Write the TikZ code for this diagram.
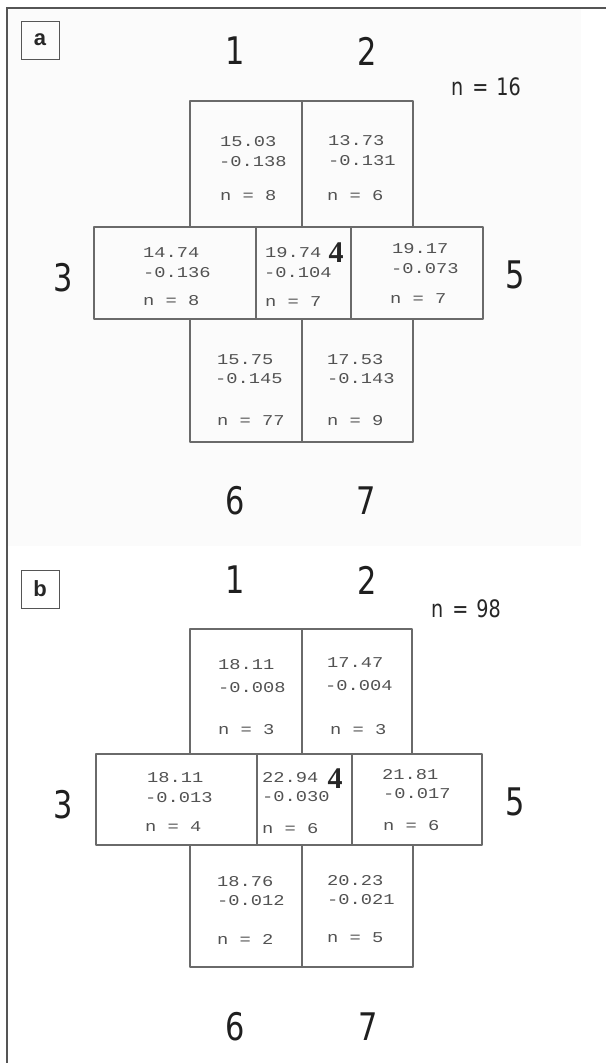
\documentclass[tikz,border=0pt]{standalone}
\usepackage{fontspec}
\newfontfamily\cellfont[FakeStretch=1.25]{Liberation Mono}
\newfontfamily\bigfont[FakeStretch=0.8]{DejaVu Sans}
\newfontfamily\fourfont{Liberation Serif}
\newfontfamily\tagfont{Liberation Sans}
\definecolor{linec}{HTML}{6A6A6A}
\definecolor{framec}{HTML}{555555}
\begin{document}
\begin{tikzpicture}[x=1pt,y=-1pt,
  cell/.style={draw=linec,line width=1.4pt,line join=round},
  val/.style={anchor=west,inner sep=0pt,font=\cellfont\fontsize{15}{15}\selectfont,text=black!68},
  big/.style={inner sep=0pt,font=\bigfont\fontsize{38}{38}\selectfont,text=black!88},
  four/.style={inner sep=0pt,font=\fourfont\bfseries\fontsize{30}{30}\selectfont,text=black!85},
  ntot/.style={anchor=base west,inner sep=0pt,font=\bigfont\fontsize{24}{24}\selectfont,text=black!85},
  tag/.style={draw=framec,line width=0.9pt,minimum size=38pt,inner sep=0pt,font=\tagfont\bfseries\fontsize{22}{22}\selectfont,text=black!85}]
\useasboundingbox (0,0) rectangle (606,1063);
\fill[white] (0,0) rectangle (606,1063);
\fill[black!1.5] (7,8) rectangle (581,546);
% frame
\draw[draw=framec,line width=1.5pt] (7,1063) -- (7,8) -- (606,8);
% ---------------- panel a ----------------
\node[tag] (taga) at (40,40) {a};
\draw[cell] (190,101) rectangle (302,227);
\draw[cell] (302,101) rectangle (413,227);
\draw[cell] (94,227) rectangle (256,319);
\draw[cell] (256,227) rectangle (351,319);
\draw[cell] (351,227) rectangle (483,319);
\draw[cell] (190,319) rectangle (302,442);
\draw[cell] (302,319) rectangle (413,442);
\node[big] (a1) at (235,51) {1};
\node[big] (a2) at (367,51) {2};
\node[big] (a3) at (63,278) {3};
\node[big] (a5) at (515,275) {5};
\node[big] (a6) at (235,501) {6};
\node[big] (a7) at (366,501) {7};
\node[four] (a4) at (336,253) {4};
\node[ntot] (an) at (451,95) {n\hspace{9pt}=\hspace{8pt}16};
\node[val] (a11) at (220,142) {15.03};
\node[val] (a12) at (219,162) {-0.138};
\node[val] (a13) at (220,196) {n = 8};
\node[val] (a21) at (328,141) {13.73};
\node[val] (a22) at (328,161) {-0.131};
\node[val] (a23) at (327,196) {n = 6};
\node[val] (a31) at (143,253) {14.74};
\node[val] (a32) at (143,273) {-0.136};
\node[val] (a33) at (143,301) {n = 8};
\node[val] (a41) at (265,253) {19.74};
\node[val] (a42) at (264,273) {-0.104};
\node[val] (a43) at (265,302) {n = 7};
\node[val] (a51) at (392,249) {19.17};
\node[val] (a52) at (391,269) {-0.073};
\node[val] (a53) at (390,299) {n = 7};
\node[val] (a61) at (217,360) {15.75};
\node[val] (a62) at (215,379) {-0.145};
\node[val] (a63) at (217,421) {n = 77};
\node[val] (a71) at (327,360) {17.53};
\node[val] (a72) at (327,379) {-0.143};
\node[val] (a73) at (327,421) {n = 9};
% ---------------- panel b ----------------
\node[tag] (tagb) at (40,589) {b};
\draw[cell] (190,629) rectangle (302,754);
\draw[cell] (302,629) rectangle (412,754);
\draw[cell] (96,754) rectangle (257,845);
\draw[cell] (257,754) rectangle (352,845);
\draw[cell] (352,754) rectangle (482,845);
\draw[cell] (190,845) rectangle (302,967);
\draw[cell] (302,845) rectangle (413,967);
\node[big] (b1) at (235,580) {1};
\node[big] (b2) at (367,580) {2};
\node[big] (b3) at (63,805) {3};
\node[big] (b5) at (515,802) {5};
\node[big] (b6) at (235,1027) {6};
\node[big] (b7) at (368,1027) {7};
\node[four] (b4) at (335,779) {4};
\node[ntot] (bn) at (431,617) {n\hspace{9pt}=\hspace{8pt}98};
\node[val] (b11) at (218,665) {18.11};
\node[val] (b12) at (218,688) {-0.008};
\node[val] (b13) at (218,730) {n = 3};
\node[val] (b21) at (327,663) {17.47};
\node[val] (b22) at (325,686) {-0.004};
\node[val] (b23) at (330,730) {n = 3};
\node[val] (b31) at (147,778) {18.11};
\node[val] (b32) at (145,798) {-0.013};
\node[val] (b33) at (145,827) {n = 4};
\node[val] (b41) at (262,778) {22.94};
\node[val] (b42) at (262,797) {-0.030};
\node[val] (b43) at (262,829) {n = 6};
\node[val] (b51) at (382,775) {21.81};
\node[val] (b52) at (383,794) {-0.017};
\node[val] (b53) at (383,826) {n = 6};
\node[val] (b61) at (217,882) {18.76};
\node[val] (b62) at (217,901) {-0.012};
\node[val] (b63) at (217,939) {n = 2};
\node[val] (b71) at (327,881) {20.23};
\node[val] (b72) at (327,900) {-0.021};
\node[val] (b73) at (327,938) {n = 5};
\end{tikzpicture}
\end{document}
